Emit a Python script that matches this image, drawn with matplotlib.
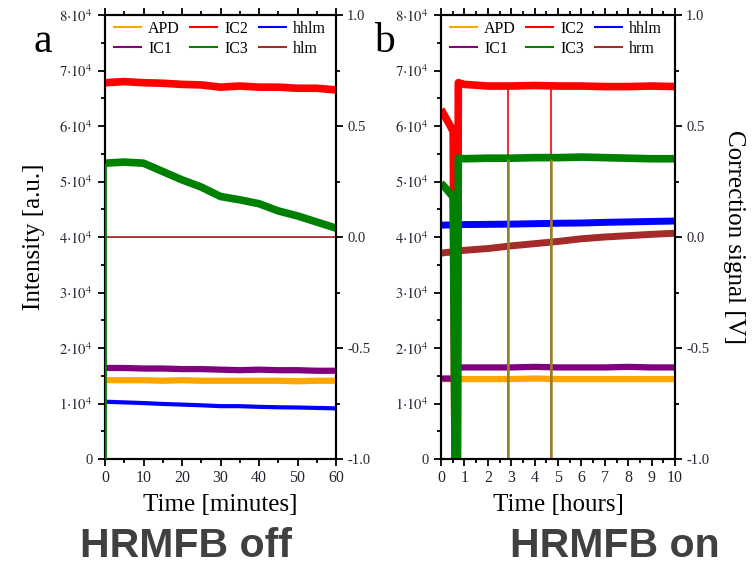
import matplotlib
matplotlib.use('Agg')
from matplotlib import pyplot as plt
from matplotlib.ticker import MultipleLocator, FuncFormatter
import numpy as np

plt.rcParams['font.family'] = ['Liberation Serif', 'DejaVu Serif']
plt.rcParams['mathtext.fontset'] = 'stix'
plt.rcParams['axes.unicode_minus'] = False

# panel a : HRMFB off, time in minutes, intensities in units of 1e4
t_a = [0, 5, 10, 15, 20, 25, 30, 35, 40, 45, 50, 55, 60]
apd_a = [1.42, 1.42, 1.42, 1.41, 1.42, 1.41, 1.41, 1.41, 1.41, 1.41, 1.40, 1.41, 1.41]
ic1_a = [1.64, 1.64, 1.63, 1.63, 1.62, 1.62, 1.61, 1.60, 1.61, 1.60, 1.60, 1.59, 1.59]
ic2_a = [6.78, 6.80, 6.78, 6.77, 6.75, 6.74, 6.70, 6.72, 6.70, 6.70, 6.68, 6.68, 6.65]
ic3_a = [5.33, 5.35, 5.33, 5.18, 5.03, 4.90, 4.73, 4.67, 4.60, 4.47, 4.38, 4.27, 4.16]
# correction signals in volts
hhlm_a = [-0.742, -0.745, -0.748, -0.752, -0.755, -0.758, -0.762, -0.762, -0.765, -0.767, -0.768, -0.770, -0.772]
hlm_a = [0.0, 0.0, 0.0, 0.0, 0.0, 0.0, 0.0, 0.0, 0.0, 0.0, 0.0, 0.0, 0.0]

# panel b : HRMFB on, time in hours
t_b = [0, 0.2, 0.4, 0.52, 0.6, 0.7, 0.74, 1, 2, 3, 4, 5, 6, 7, 8, 9, 10]
apd_b = [1.44, 1.44, 1.44, 1.44, 1.44, 1.44, 1.44, 1.44, 1.44, 1.44, 1.45, 1.44, 1.44, 1.44, 1.44, 1.44, 1.44]
ic1_b = [1.45, 1.45, 1.45, 1.45, 1.45, 1.60, 1.65, 1.65, 1.65, 1.65, 1.66, 1.65, 1.65, 1.65, 1.66, 1.65, 1.65]
ic2_b = [6.30, 6.15, 6.00, 5.90, 0.0, 0.0, 6.78, 6.75, 6.72, 6.72, 6.73, 6.72, 6.72, 6.71, 6.71, 6.72, 6.71]
ic3_b = [4.97, 4.88, 4.78, 4.72, 0.0, 0.0, 5.42, 5.41, 5.42, 5.42, 5.43, 5.43, 5.44, 5.43, 5.42, 5.41, 5.41]
hhlm_b = [0.053, 0.054, 0.054, 0.055, 0.055, 0.055, 0.055, 0.056, 0.057, 0.058, 0.060, 0.062, 0.063, 0.066, 0.068, 0.070, 0.072]
hrm_b = [-0.073, -0.070, -0.068, -0.066, -0.065, -0.064, -0.063, -0.060, -0.052, -0.040, -0.030, -0.020, -0.008, 0.0, 0.006, 0.012, 0.017]
spikes_b = [2.85, 4.72]

colores = {'APD': 'orange', 'IC1': 'purple', 'IC2': 'red', 'IC3': 'green',
           'hhlm': 'blue', 'hlm': 'brown'}
color_ticks = '#2a2230'


def etiqueta(v, pos):
    if abs(v) < 1:
        return '0'
    return r'$%d{\cdot}10^4$' % round(v / 1e4)


def ejes(fig, rect, xmax, xmajor, xminor, xlabel):
    ax = fig.add_axes(rect)
    ax2 = ax.twinx()
    ax.set_zorder(ax2.get_zorder() + 1)
    ax.patch.set_visible(False)
    ax.set_xlim(0, xmax)
    ax.set_ylim(0, 8e4)
    ax2.set_ylim(-1, 1)
    ax.xaxis.set_major_locator(MultipleLocator(xmajor))
    ax.xaxis.set_minor_locator(MultipleLocator(xminor))
    ax.yaxis.set_major_locator(MultipleLocator(1e4))
    ax.yaxis.set_minor_locator(MultipleLocator(5e3))
    ax.yaxis.set_major_formatter(FuncFormatter(etiqueta))
    ax2.yaxis.set_major_locator(MultipleLocator(0.5))
    ax2.yaxis.set_minor_locator(MultipleLocator(0.25))
    ax2.yaxis.set_major_formatter(FuncFormatter(lambda v, p: '%.1f' % v))
    ax.tick_params(axis='x', which='both', top=True, direction='out', colors='black',
                   labelcolor=color_ticks, labelsize=11.5, pad=3)
    ax.tick_params(axis='y', which='both', direction='out', labelcolor=color_ticks,
                   labelsize=10.5, pad=4)
    ax2.tick_params(axis='y', which='both', direction='out', labelcolor=color_ticks,
                    labelsize=10.5, pad=3)
    for a in (ax, ax2):
        a.tick_params(which='major', length=5, width=1.3)
        a.tick_params(which='minor', length=3, width=1.3)
        for s in a.spines.values():
            s.set_linewidth(1.5)
    ax.set_xlabel(xlabel, fontsize=18, labelpad=6)
    return ax, ax2


fig = plt.figure(figsize=(7.55, 5.65), dpi=100)

# panel a
ax, ax2 = ejes(fig, [105 / 755, 106 / 565, 231 / 755, 444 / 565], 60, 10, 5, 'Time [minutes]')
ta = np.array(t_a)
l_apd, = ax.plot(ta, np.array(apd_a) * 1e4, color=colores['APD'], lw=4.5, label='APD')
l_ic1, = ax.plot(ta, np.array(ic1_a) * 1e4, color=colores['IC1'], lw=4.5, label='IC1')
l_ic2, = ax.plot(ta, np.array(ic2_a) * 1e4, color=colores['IC2'], lw=5.5, label='IC2')
l_ic3, = ax.plot(ta, np.array(ic3_a) * 1e4, color=colores['IC3'], lw=5.5, label='IC3')
ax.vlines(ta[0], 0, ic3_a[0] * 1e4, color=colores['IC3'], lw=2, zorder=5)
l_hh, = ax2.plot(ta, hhlm_a, color=colores['hhlm'], lw=3, label='hhlm')
l_hl, = ax2.plot(ta, hlm_a, color=colores['hlm'], lw=1.3, label='hlm')
hs = [l_apd, l_ic1, l_ic2, l_ic3, l_hh, l_hl]
for h in hs:
    h.set_solid_capstyle('butt')
leg = ax.legend(hs, [h.get_label() for h in hs], ncol=3, loc='upper left', frameon=False,
                fontsize=11.5, handlelength=1.8, handletextpad=0.4, columnspacing=0.6,
                labelspacing=0.25, borderaxespad=0, borderpad=0,
                bbox_to_anchor=(8 / 231, 1 - 6 / 444))
for h in leg.legend_handles:
    h.set_linewidth(1.5)
ax.set_ylabel('Intensity [a.u.]', fontsize=18, labelpad=10)

# panel b
bx, bx2 = ejes(fig, [441 / 755, 106 / 565, 234 / 755, 444 / 565], 10, 1, 0.5, 'Time [hours]')
tb = np.array(t_b)
m_apd, = bx.plot(tb, np.array(apd_b) * 1e4, color=colores['APD'], lw=4.5, label='APD')
m_ic1, = bx.plot(tb, np.array(ic1_b) * 1e4, color=colores['IC1'], lw=4.5, label='IC1')
m_ic2, = bx.plot(tb, np.array(ic2_b) * 1e4, color=colores['IC2'], lw=5.5, label='IC2')
bx.vlines(spikes_b, 0, ic2_b[-1] * 1e4, color=colores['IC2'], lw=1.2)
m_ic3, = bx.plot(tb, np.array(ic3_b) * 1e4, color=colores['IC3'], lw=5.5, label='IC3')
bx.vlines(spikes_b, 0, ic3_b[-1] * 1e4, color='#8a8a2a', lw=1.8)
m_hh, = bx2.plot(tb, hhlm_b, color=colores['hhlm'], lw=5, label='hhlm')
m_hr, = bx2.plot(tb, hrm_b, color=colores['hlm'], lw=5, label='hrm')
hs = [m_apd, m_ic1, m_ic2, m_ic3, m_hh, m_hr]
for h in hs:
    h.set_solid_capstyle('butt')
leg = bx.legend(hs, [h.get_label() for h in hs], ncol=3, loc='upper left', frameon=False,
                fontsize=11.5, handlelength=1.8, handletextpad=0.4, columnspacing=0.6,
                labelspacing=0.25, borderaxespad=0, borderpad=0,
                bbox_to_anchor=(8 / 234, 1 - 6 / 444))
for h in leg.legend_handles:
    h.set_linewidth(1.5)
bx2.set_ylabel('Correction signal [V]', fontsize=18, rotation=270, labelpad=26)

fig.text(43 / 755, 1 - 52 / 565, 'a', fontsize=30, ha='center', va='baseline')
fig.text(384 / 755, 1 - 52 / 565, 'b', fontsize=30, ha='center', va='baseline')
fig.text(80 / 755, 1 - 557 / 565, 'HRMFB off', fontsize=29.5, fontweight='bold',
         family='Liberation Sans', color='#404040', va='baseline')
fig.text(510 / 755, 1 - 557 / 565, 'HRMFB on', fontsize=29.5, fontweight='bold',
         family='Liberation Sans', color='#404040', va='baseline')

plt.savefig('out.png', dpi=100)
